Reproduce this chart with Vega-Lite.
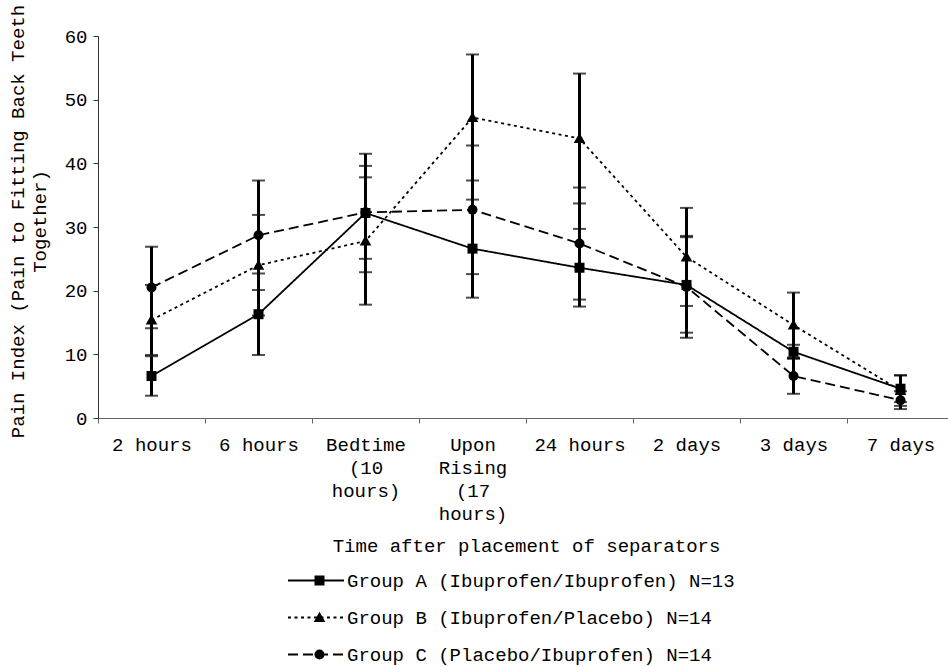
{
  "$schema": "https://vega.github.io/schema/vega-lite/v6.json",
  "width": 850,
  "height": 382,
  "autosize": {"type": "none"},
  "padding": {"left": 98, "top": 36, "right": 0, "bottom": 248},
  "background": "white",
  "config": {
    "font": "Liberation Mono",
    "view": {"stroke": null},
    "axis": {"labelFont": "Liberation Mono", "titleFont": "Liberation Mono", "labelColor": "black", "titleColor": "black", "titleFontWeight": "normal"},
    "legend": {"labelFont": "Liberation Mono", "labelColor": "black"}
  },
  "data": {
    "values": [
      {"time": "2 hours", "group": "Group A (Ibuprofen/Ibuprofen) N=13", "code": "A", "mean": 6.6, "err": 3.1},
      {"time": "6 hours", "group": "Group A (Ibuprofen/Ibuprofen) N=13", "code": "A", "mean": 16.3, "err": 6.4},
      {"time": "Bedtime (10 hours)", "group": "Group A (Ibuprofen/Ibuprofen) N=13", "code": "A", "mean": 32.2, "err": 9.3},
      {"time": "Upon Rising (17 hours)", "group": "Group A (Ibuprofen/Ibuprofen) N=13", "code": "A", "mean": 26.6, "err": 7.7},
      {"time": "24 hours", "group": "Group A (Ibuprofen/Ibuprofen) N=13", "code": "A", "mean": 23.6, "err": 6.1},
      {"time": "2 days", "group": "Group A (Ibuprofen/Ibuprofen) N=13", "code": "A", "mean": 20.9, "err": 7.5},
      {"time": "3 days", "group": "Group A (Ibuprofen/Ibuprofen) N=13", "code": "A", "mean": 10.4, "err": 1.1},
      {"time": "7 days", "group": "Group A (Ibuprofen/Ibuprofen) N=13", "code": "A", "mean": 4.6, "err": 2.1},
      {"time": "2 hours", "group": "Group B (Ibuprofen/Placebo) N=14", "code": "B", "mean": 15.4, "err": 5.5},
      {"time": "6 hours", "group": "Group B (Ibuprofen/Placebo) N=14", "code": "B", "mean": 24.0, "err": 7.9},
      {"time": "Bedtime (10 hours)", "group": "Group B (Ibuprofen/Placebo) N=14", "code": "B", "mean": 27.8, "err": 10.0},
      {"time": "Upon Rising (17 hours)", "group": "Group B (Ibuprofen/Placebo) N=14", "code": "B", "mean": 47.2, "err": 9.9},
      {"time": "24 hours", "group": "Group B (Ibuprofen/Placebo) N=14", "code": "B", "mean": 43.9, "err": 10.2},
      {"time": "2 days", "group": "Group B (Ibuprofen/Placebo) N=14", "code": "B", "mean": 25.3, "err": 7.7},
      {"time": "3 days", "group": "Group B (Ibuprofen/Placebo) N=14", "code": "B", "mean": 14.6, "err": 5.1},
      {"time": "7 days", "group": "Group B (Ibuprofen/Placebo) N=14", "code": "B", "mean": 4.3, "err": 2.4},
      {"time": "2 hours", "group": "Group C (Placebo/Ibuprofen) N=14", "code": "C", "mean": 20.5, "err": 6.4},
      {"time": "6 hours", "group": "Group C (Placebo/Ibuprofen) N=14", "code": "C", "mean": 28.7, "err": 8.6},
      {"time": "Bedtime (10 hours)", "group": "Group C (Placebo/Ibuprofen) N=14", "code": "C", "mean": 32.3, "err": 7.3},
      {"time": "Upon Rising (17 hours)", "group": "Group C (Placebo/Ibuprofen) N=14", "code": "C", "mean": 32.7, "err": 10.1},
      {"time": "24 hours", "group": "Group C (Placebo/Ibuprofen) N=14", "code": "C", "mean": 27.4, "err": 8.8},
      {"time": "2 days", "group": "Group C (Placebo/Ibuprofen) N=14", "code": "C", "mean": 20.6, "err": 8.0},
      {"time": "3 days", "group": "Group C (Placebo/Ibuprofen) N=14", "code": "C", "mean": 6.6, "err": 2.8},
      {"time": "7 days", "group": "Group C (Placebo/Ibuprofen) N=14", "code": "C", "mean": 2.8, "err": 1.4}
    ]
  },
  "encoding": {
    "x": {
      "field": "time",
      "type": "nominal",
      "sort": null,
      "scale": {"type": "band", "range": [0, 856], "paddingInner": 0, "paddingOuter": 0},
      "axis": {
        "title": "Time after placement of separators",
        "titleFontSize": 19,
        "titleBaseline": "alphabetic",
        "titleY": 133,
        "labelAngle": 0,
        "labelFontSize": 19,
        "labelBaseline": "alphabetic",
        "labelPadding": 27,
        "labelLineHeight": 23,
        "labelOverlap": false,
        "labelLimit": 0,
        "labelExpr": "datum.value == 'Bedtime (10 hours)' ? ['Bedtime','(10','hours)'] : datum.value == 'Upon Rising (17 hours)' ? ['Upon','Rising','(17','hours)'] : datum.label",
        "tickBand": "extent",
        "tickSize": 5,
        "domainColor": "#666",
        "tickColor": "#666"
      }
    },
    "y": {
      "field": "mean",
      "type": "quantitative",
      "scale": {"domain": [0, 60], "nice": false},
      "axis": {
        "title": ["Pain Index (Pain to Fitting Back Teeth", "Together)"],
        "titleFontSize": 19,
        "titleBaseline": "alphabetic",
        "titleLineHeight": 22,
        "titleX": -75,
        "titleY": 185,
        "labelFontSize": 19,
        "values": [0, 10, 20, 30, 40, 50, 60],
        "grid": false,
        "tickSize": 5,
        "labelPadding": 6,
        "domainColor": "#333",
        "tickColor": "#333"
      }
    }
  },
  "layer": [
    {
      "mark": {
        "type": "errorbar",
        "ticks": {"size": 13, "thickness": 2, "color": "black"},
        "rule": {"strokeWidth": 3, "color": "black"}
      },
      "encoding": {
        "yError": {"field": "err"},
        "detail": {"field": "group"}
      }
    },
    {
      "mark": {"type": "line", "color": "black", "strokeWidth": 1.8},
      "encoding": {
        "strokeDash": {
          "field": "group",
          "type": "nominal",
          "scale": {
            "domain": ["Group A (Ibuprofen/Ibuprofen) N=13", "Group B (Ibuprofen/Placebo) N=14", "Group C (Placebo/Ibuprofen) N=14"],
            "range": [[1, 0], [3, 3.5], [10, 5]]
          },
          "legend": {
            "title": null,
            "orient": "none",
            "legendX": 189,
            "legendY": 535,
            "symbolType": "stroke",
            "symbolSize": 3136,
            "symbolStrokeWidth": 2,
            "symbolStrokeColor": "black",
            "labelFontSize": 19,
            "labelOffset": 2,
            "labelLimit": 0,
            "rowPadding": 17,
            "clipHeight": 19,
            "padding": 0
          }
        }
      }
    },
    {
      "mark": {"type": "point", "filled": true, "color": "black", "size": 100, "opacity": 1},
      "encoding": {
        "shape": {
          "field": "code",
          "type": "nominal",
          "scale": {"domain": ["A", "B", "C"], "range": ["square", "M-1.15,0.9L1.15,0.9L0,-1.15Z", "circle"]},
          "legend": {
            "title": null,
            "orient": "none",
            "legendX": 212,
            "legendY": 535,
            "labelExpr": "''",
            "symbolSize": 100,
            "symbolFillColor": "black",
            "symbolStrokeColor": "black",
            "symbolOpacity": 1,
            "labelFontSize": 19,
            "rowPadding": 17,
            "clipHeight": 19,
            "padding": 0
          }
        }
      }
    }
  ]
}
